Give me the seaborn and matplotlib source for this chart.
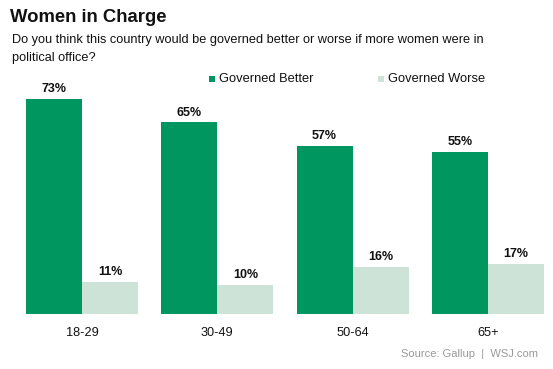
import seaborn as sns
import pandas as pd
import matplotlib.pyplot as plt
from matplotlib.patches import Rectangle

# datos
edades = ["18-29", "30-49", "50-64", "65+"]
mejor = [73, 65, 57, 55]
peor = [11, 10, 16, 17]
series = ["Governed Better", "Governed Worse"]
colores = ["#009660", "#cde3d7"]

df = pd.DataFrame({
    "edad": edades * 2,
    "valor": mejor + peor,
    "serie": [series[0]] * 4 + [series[1]] * 4,
})

sns.set_style("white")
plt.rcParams['font.family'] = ['Liberation Sans', 'DejaVu Sans']
plt.rcParams['text.color'] = "#111111"
plt.rcParams['xtick.color'] = "#111111"

W, H = 553, 369
fig = plt.figure(figsize=(W / 100, H / 100), dpi=100)
ax = fig.add_axes([21 / W, 55 / H, 528 / W, 236 / H])

sns.barplot(data=df, x="edad", y="valor", hue="serie", palette=colores,
            width=0.83, saturation=1, linewidth=0, ax=ax, legend=False)

for cont in ax.containers:
    ax.bar_label(cont, labels=[f"{v:.0f}%" for v in cont.datavalues],
                 padding=2.5, fontsize=9, fontweight="bold", color="#111111")

ax.set_xlim(-0.45, 3.45)
ax.set_ylim(0, 80)
ax.set_xlabel("")
ax.set_ylabel("")
ax.set_yticks([])
ax.tick_params(axis="x", length=0, labelsize=9.2, pad=9)
for s in ax.spines.values():
    s.set_visible(False)

fig.text(10 / W, 1 - 18 / H, "Women in Charge", fontsize=13.3,
         fontweight="bold", va="center")
fig.text(12 / W, 1 - 40 / H, "Do you think this country would be governed better or worse if more women were in",
         fontsize=9.2, va="center")
fig.text(12 / W, 1 - 58 / H, "political office?", fontsize=9.2, va="center")

# leyenda manual
for x, c, lab in [(209, colores[0], series[0]), (378, colores[1], series[1])]:
    fig.patches.append(Rectangle((x / W, 1 - 82 / H), 6 / W, 6 / H,
                                 transform=fig.transFigure, color=c, lw=0))
    fig.text((x + 10) / W, 1 - 79 / H, lab, fontsize=9.3, va="center")

fig.text(538 / W, 1 - 354 / H, "Source: Gallup  |  WSJ.com", fontsize=8,
         color="#999999", ha="right", va="center")

fig.savefig("out.png", dpi=100)
